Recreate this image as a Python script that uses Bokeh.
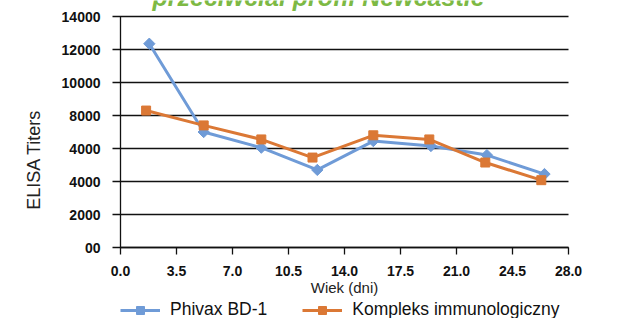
import math
from bokeh.plotting import figure
from bokeh.models import Range1d, FixedTicker, Legend, LegendItem, Label
from bokeh.embed import file_html
from bokeh.resources import INLINE

# ---- data ----
days_phivax = [1.8, 5.2, 8.8, 12.3, 15.8, 19.4, 22.9, 26.5]
titers_phivax = [12350, 7000, 6050, 4700, 6450, 6150, 5600, 4450]
days_complex = [1.6, 5.2, 8.8, 12.0, 15.8, 19.3, 22.8, 26.3]
titers_complex = [8300, 7400, 6550, 5450, 6800, 6550, 5150, 4080]

x_ticks = [0, 3.5, 7, 10.5, 14, 17.5, 21, 24.5, 28]
x_tick_labels = ["0.0", "3.5", "7.0", "10.5", "14.0", "17.5", "21.0", "24.5", "28.0"]
y_ticks = [0, 2000, 4000, 6000, 8000, 10000, 12000, 14000]
y_tick_labels = ["00", "2000", "4000", "4000", "8000", "10000", "12000", "14000"]
x_min, x_max = 0, 28
y_max = 14000

series_names = ["Phivax BD-1", "Kompleks immunologiczny"]
title_text = "przeciwciał profil Newcastle"
x_title = "Wiek (dni)"
y_title = "ELISA Titers"

BLUE = "#6F9BD7"
ORANGE = "#DB7835"
GREEN = "#7DB944"
AX = "#111111"
FONT = "Liberation Sans"

PLOT_W = 448     # pixels between 0 and 28
SIDE_PAD = 20    # extra frame pixels left and right (room for edge tick labels)
PLOT_H = 231     # pixels between 0 and 14000
TOP_PAD = 16     # pixels above 14000 (title fragment lives there)
BOTTOM_PAD = 71  # pixels below 0 (x labels and legend live there)
x_per_px = (x_max - x_min) / PLOT_W
y_per_px = y_max / PLOT_H

p = figure(
    frame_width=PLOT_W + 2 * SIDE_PAD, frame_height=PLOT_H + TOP_PAD + BOTTOM_PAD,
    min_border_left=100, min_border_right=30, min_border_top=0, min_border_bottom=0,
    x_range=Range1d(x_min - SIDE_PAD * x_per_px, x_max + SIDE_PAD * x_per_px),
    y_range=Range1d(-BOTTOM_PAD * y_per_px, y_max + TOP_PAD * y_per_px),
    output_backend="svg", toolbar_location=None,
)
p.outline_line_color = None
p.background_fill_color = "white"
p.border_fill_color = "white"
p.xgrid.grid_line_color = None
p.ygrid.grid_line_color = None

# horizontal grid lines (with the outward y tick) and the y axis line, at x = 0
n = len(y_ticks)
p.segment(x0=[x_min - 8 * x_per_px] * n, y0=y_ticks, x1=[x_max] * n, y1=y_ticks,
          line_color=AX, line_width=1.3)
p.segment(x0=[x_min], y0=[y_ticks[0]], x1=[x_min], y1=[y_ticks[-1]],
          line_color=AX, line_width=1.3)

# x axis, pinned at y = 0
xa = p.xaxis[0]
xa.fixed_location = 0
xa.bounds = (x_min, x_max)
xa.ticker = FixedTicker(ticks=x_ticks)
xa.major_label_overrides = {t: l for t, l in zip(x_ticks, x_tick_labels)}
xa.axis_line_color = AX
xa.axis_line_width = 1.3
xa.major_tick_line_color = AX
xa.major_tick_line_width = 1.3
xa.major_tick_out = 7
xa.major_tick_in = 0
xa.minor_tick_line_color = None
xa.major_label_standoff = 11
xa.major_label_text_font = FONT
xa.major_label_text_font_style = "bold"
xa.major_label_text_font_size = "14px"
xa.major_label_text_color = AX
xa.axis_label = x_title
xa.axis_label_standoff = 0
xa.axis_label_text_font = FONT
xa.axis_label_text_font_style = "normal"
xa.axis_label_text_font_size = "15px"
xa.axis_label_text_color = "#222222"

# y axis: labels only (its line and ticks are drawn above at x = 0)
ya = p.yaxis[0]
ya.ticker = FixedTicker(ticks=y_ticks)
ya.major_label_overrides = {t: l for t, l in zip(y_ticks, y_tick_labels)}
ya.axis_line_color = None
ya.major_tick_line_color = None
ya.major_tick_out = 0
ya.major_tick_in = 0
ya.minor_tick_line_color = None
ya.major_label_standoff = 0
ya.major_label_text_font = FONT
ya.major_label_text_font_style = "bold"
ya.major_label_text_font_size = "14px"
ya.major_label_text_color = AX
ya.axis_label = y_title
ya.axis_label_standoff = 15
ya.axis_label_text_font = FONT
ya.axis_label_text_font_style = "normal"
ya.axis_label_text_font_size = "18px"
ya.axis_label_text_color = "#222222"

# series
l1 = p.line(days_phivax, titers_phivax, line_color=BLUE, line_width=3)
s1 = p.scatter(days_phivax, titers_phivax, marker="square", size=8, angle=math.pi / 4,
               fill_color=BLUE, line_color=BLUE)
l2 = p.line(days_complex, titers_complex, line_color=ORANGE, line_width=3)
s2 = p.scatter(days_complex, titers_complex, marker="square", size=9,
               fill_color=ORANGE, line_color=ORANGE)

legend = Legend(
    items=[LegendItem(label=series_names[0], renderers=[l1, s1]),
           LegendItem(label=series_names[1], renderers=[l2, s2])],
    orientation="horizontal", location=(SIDE_PAD, -2),
    glyph_width=40, glyph_height=20, label_height=20, label_standoff=10, spacing=35,
    padding=0, margin=0, border_line_color=None, background_fill_alpha=0,
    label_text_font=FONT, label_text_font_size="17.5px", label_text_color=AX,
)
p.add_layout(legend, "center")

# title, mostly cut off by the top of the page
title = Label(x=2.0, y=15155, text=title_text, text_baseline="alphabetic",
              text_font=FONT, text_font_style="bold italic", text_font_size="25px",
              text_color=GREEN)
p.add_layout(title)

open("out.html", "w").write(file_html(p, INLINE))
